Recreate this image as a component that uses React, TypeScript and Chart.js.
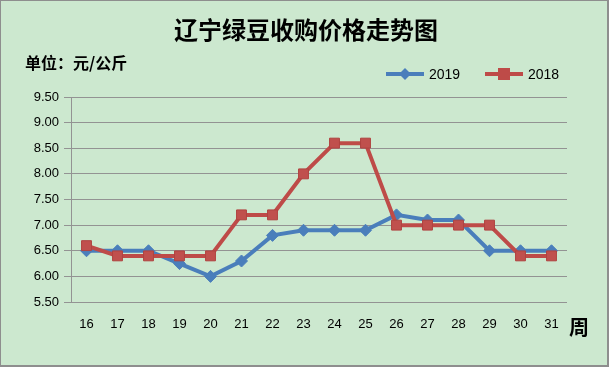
import React, { useEffect, useRef } from "react";
import { Chart, registerables } from "chart.js";

Chart.register(...registerables);

const weeks = ["16", "17", "18", "19", "20", "21", "22", "23", "24", "25", "26", "27", "28", "29", "30", "31"];
const price2019 = [6.5, 6.5, 6.5, 6.25, 6.0, 6.3, 6.8, 6.9, 6.9, 6.9, 7.2, 7.1, 7.1, 6.5, 6.5, 6.5];
const price2018 = [6.6, 6.4, 6.4, 6.4, 6.4, 7.2, 7.2, 8.0, 8.6, 8.6, 7.0, 7.0, 7.0, 7.0, 6.4, 6.4];
const titleText = "辽宁绿豆收购价格走势图";
const unitText = "单位：元/公斤";
const xUnitText = "周";
const seriesNames = ["2019", "2018"];

const BLUE = "#4A7EBB";
const RED = "#BE4B48";
const CJK = '"Noto Sans CJK SC", "Noto Sans", sans-serif';
const LAT = '"Liberation Sans", "DejaVu Sans", sans-serif';

const overlay = {
  id: "overlay",
  afterDraw(chart: any) {
    const ctx = chart.ctx;
    ctx.save();
    ctx.fillStyle = "#000";
    ctx.textBaseline = "middle";
    // title
    ctx.font = `bold 24px ${CJK}`;
    ctx.textAlign = "center";
    ctx.fillText(titleText, 305, 29);
    // unit
    ctx.font = `bold 16px ${CJK}`;
    ctx.textAlign = "left";
    ctx.fillText(unitText, 24, 62);
    // x unit
    ctx.font = `bold 20px ${CJK}`;
    ctx.fillText(xUnitText, 568, 326);
    // legend
    const items = [
      { name: seriesNames[0], color: BLUE, style: "diamond", x: 385 },
      { name: seriesNames[1], color: RED, style: "square", x: 484 },
    ];
    const ly = 73;
    for (const it of items) {
      ctx.strokeStyle = it.color;
      ctx.lineWidth = 4;
      ctx.beginPath();
      ctx.moveTo(it.x, ly);
      ctx.lineTo(it.x + 38, ly);
      ctx.stroke();
      ctx.fillStyle = it.color;
      const cx = it.x + 19;
      if (it.style === "diamond") {
        ctx.beginPath();
        ctx.moveTo(cx, ly - 6);
        ctx.lineTo(cx + 6, ly);
        ctx.lineTo(cx, ly + 6);
        ctx.lineTo(cx - 6, ly);
        ctx.closePath();
        ctx.fill();
      } else {
        ctx.fillRect(cx - 6, ly - 6, 12, 12);
      }
      ctx.fillStyle = "#000";
      ctx.font = `14px ${LAT}`;
      ctx.textAlign = "left";
      ctx.fillText(it.name, it.x + 43, ly + 1);
    }
    ctx.restore();
  },
};

export default function App() {
  const ref = useRef<HTMLCanvasElement | null>(null);
  useEffect(() => {
    if (!ref.current) return;
    const chart = new Chart(ref.current, {
      type: "line",
      data: {
        labels: weeks,
        datasets: [
          {
            label: seriesNames[0],
            data: price2019,
            borderColor: BLUE,
            backgroundColor: BLUE,
            borderWidth: 4,
            pointStyle: "rectRot",
            pointRadius: 6,
            pointBorderWidth: 1,
            pointBorderColor: BLUE,
            pointBackgroundColor: BLUE,
            order: 2,
          },
          {
            label: seriesNames[1],
            data: price2018,
            borderColor: RED,
            backgroundColor: RED,
            borderWidth: 4,
            pointStyle: "rect",
            pointRadius: 7,
            pointBorderWidth: 1,
            pointBorderColor: "#B04340",
            pointBackgroundColor: "#C0504D",
            order: 1,
          },
        ],
      },
      options: {
        animation: false,
        responsive: false,
        maintainAspectRatio: false,
        layout: { padding: { top: 96, right: 40, left: 0, bottom: 0 } },
        plugins: { legend: { display: false }, title: { display: false }, tooltip: { enabled: false } },
        scales: {
          x: {
            offset: true,
            grid: { display: false, drawTicks: false },
            border: { display: false },
            ticks: { color: "#000", font: { family: LAT, size: 13 }, padding: 15, maxRotation: 0 },
            afterFit: (s: any) => { s.height = 63; },
          },
          y: {
            min: 5.5,
            max: 9.5,
            ticks: {
              stepSize: 0.5,
              color: "#000",
              font: { family: LAT, size: 13 },
              padding: 5,
              callback: (v: any) => Number(v).toFixed(2),
            },
            grid: { color: "#939393", lineWidth: 1, tickLength: 7, tickColor: "#939393" },
            border: { display: true, color: "#939393", width: 1 },
            afterFit: (s: any) => { s.width = 70; },
          },
        },
      },
      plugins: [overlay],
    });
    return () => chart.destroy();
  }, []);
  return (
    <div style={{ position: "absolute", left: 0, top: 0, width: 609, height: 367, boxSizing: "border-box", border: "1px solid #8E8E8E", borderBottomWidth: 2, borderRightWidth: 2, background: "#CCE8CF" }}>
      <canvas ref={ref} width={606} height={364} style={{ display: "block" }} />
    </div>
  );
}
